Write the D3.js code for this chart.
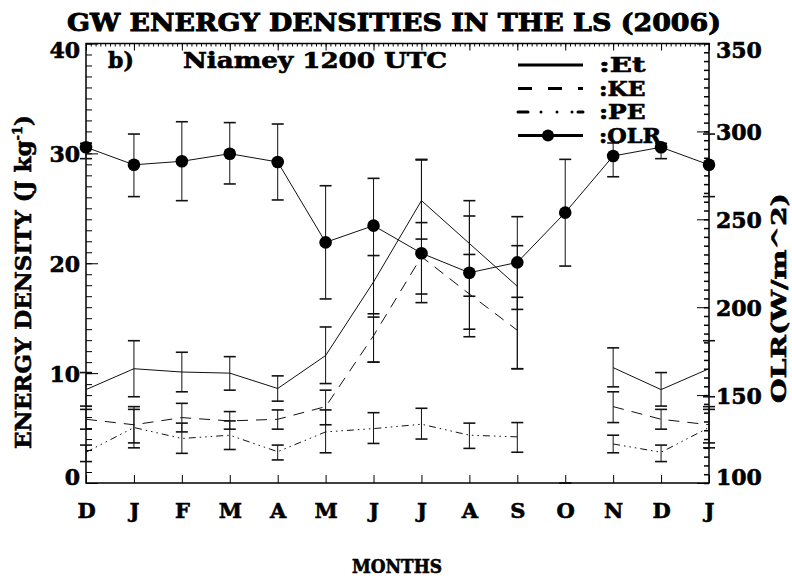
<!DOCTYPE html>
<html>
<head>
<meta charset="utf-8">
<script src="https://cdn.jsdelivr.net/npm/d3@7"></script>
<style>
body { margin: 0; background: #fff; }
text { font-family: "DejaVu Serif", "Liberation Serif", serif; font-weight: bold; fill: #000; stroke: #000; stroke-width: 0.6px; }
</style>
</head>
<body>
<div id="chart"></div>
<script>
// months along the x axis (Dec 2005 .. Jan 2007)
const months = ['D','J','F','M','A','M','J','J','A','S','O','N','D','J'];

// total, kinetic and potential energy (J/kg), null = no data
const et   = [8.5, 10.4, 10.1, 10.0, 8.6, 11.6, 18.3, 25.7, 21.8, 17.9, null, 10.5, 8.5, 10.4];
const etLo = [7.0, 7.85, 8.3, 8.45, 7.45, 9.05, 15.4, 22.2, 17.0, 15.8, 0, 8.75, 7.0, 7.85];
const etHi = [10.05, 12.95, 11.9, 11.5, 9.75, 14.2, 20.7, 29.4, 24.3, 21.6, 0, 12.3, 10.05, 12.95];

const ke   = [5.8, 5.3, 5.95, 5.65, 5.8, 6.95, 13.4, 20.6, 17.2, 13.9, null, 6.95, 5.8, 5.3];
const keLo = [4.9, 3.65, 4.65, 4.9, 4.9, 5.3, 11.0, 17.2, 14.0, 10.4, null, 5.5, 4.9, 3.65];
const keHi = [6.7, 6.95, 7.25, 6.5, 6.65, 8.45, 15.1, 23.7, 20.8, 16.9, null, 8.3, 6.7, 6.95];

const pe   = [2.8, 5.05, 4.05, 4.35, 2.85, 4.65, 4.95, 5.35, 4.35, 4.2, null, 3.55, 2.8, 5.05];
const peLo = [1.95, 3.2, 2.7, 3.05, 2.1, 2.75, 3.6, 4.0, 3.15, 2.8, null, 2.75, 1.95, 3.2];
const peHi = [3.45, 6.7, 5.45, 5.65, 3.45, 6.65, 6.4, 6.8, 5.45, 5.5, null, 4.35, 3.45, 6.7];

// outgoing longwave radiation (W/m^2)
const olr   = [291, 281, 283, 287.3, 282.6, 236.9, 246.4, 230.7, 219.6, 225.5, 253.8, 286, 291, 281];
const olrLo = [284.5, 262.9, 260.6, 270.1, 261.0, 204.7, 168.7, 202.6, 183.2, 165.0, 223.4, 274.2, 284.5, 262.9];
const olrHi = [293.2, 298.5, 305.5, 305.0, 304.2, 269.1, 273.3, 284.1, 260.6, 251.5, 284.1, 293.4, 293.2, 298.5];

const leftTicks = [0, 10, 20, 30, 40];
const rightTicks = [100, 150, 200, 250, 300, 350];

const width = 792, height = 579;
const svg = d3.select("#chart").append("svg")
    .attr("width", width)
    .attr("height", height);

const x = d3.scaleLinear().domain([0, 13]).range([86, 709]);
const y = d3.scaleLinear().domain([0, 40]).range([483, 43.5]);
const y2 = d3.scaleLinear().domain([100, 350]).range([483, 43.5]);

// frame
svg.append("rect")
    .attr("x", x(0)).attr("y", y(40))
    .attr("width", x(13) - x(0)).attr("height", y(0) - y(40))
    .attr("fill", "none").attr("stroke", "#000").attr("stroke-width", 1.5);

const noDomain = g => g.select(".domain").remove();

// left axis, ticks point inward
svg.append("g").attr("transform", `translate(${x(0)},0)`)
    .call(d3.axisLeft(y).tickValues(d3.range(0, 41, 1)).tickSize(-6).tickFormat(""))
    .call(noDomain);
svg.append("g").attr("transform", `translate(${x(0)},0)`)
    .call(d3.axisLeft(y).tickValues(leftTicks).tickSize(-12).tickPadding(6))
    .call(noDomain)
    .selectAll("text")
        .style("font-size", "22px")
        .attr("dy", d => d === 40 ? 14 : d === 0 ? 1 : 8);

// right axis (OLR)
svg.append("g").attr("transform", `translate(${x(13)},0)`)
    .call(d3.axisRight(y2).tickValues(d3.range(100, 351, 5)).tickSize(-5).tickFormat(""))
    .call(noDomain)
    .selectAll("line").attr("stroke-width", 1.5);
svg.append("g").attr("transform", `translate(${x(13)},0)`)
    .call(d3.axisRight(y2).tickValues(rightTicks).tickSize(-12).tickPadding(7))
    .call(noDomain)
    .selectAll("text")
        .style("font-size", "22px")
        .attr("dy", d => d === 350 ? 14 : d === 100 ? 1 : 8);

// top axis, dense minor ticks
svg.append("g").attr("transform", `translate(0,${y(40)})`)
    .call(d3.axisTop(x).tickValues(d3.range(0, 130.5, 1).map(v => v / 10)).tickSize(-3).tickFormat(""))
    .call(noDomain);
svg.append("g").attr("transform", `translate(0,${y(40)})`)
    .call(d3.axisTop(x).tickValues(d3.range(14)).tickSize(-7).tickFormat(""))
    .call(noDomain);

// bottom axis with month letters
svg.append("g").attr("transform", `translate(0,${y(0)})`)
    .call(d3.axisBottom(x).tickValues(d3.range(14)).tickSize(-8).tickPadding(20).tickFormat(i => months[i]))
    .call(noDomain)
    .selectAll("text")
        .style("font-size", "21px");

// series lines
const idx = d3.range(months.length);
function drawLine(vals, scale, dash) {
    const line = d3.line()
        .defined(i => vals[i] != null)
        .x(i => x(i))
        .y(i => scale(vals[i]));
    svg.append("path")
        .datum(idx)
        .attr("d", line)
        .attr("fill", "none")
        .attr("stroke", "#111")
        .attr("stroke-width", 1)
        .attr("stroke-dasharray", dash);
}
function drawErr(lo, hi, scale) {
    const g = svg.append("g").attr("stroke", "#111");
    const pts = idx.filter(i => lo[i] != null);
    g.selectAll("line.v").data(pts).enter().append("line")
        .attr("x1", i => x(i)).attr("x2", i => x(i))
        .attr("y1", i => scale(lo[i])).attr("y2", i => scale(hi[i]))
        .attr("stroke-width", 1);
    [lo, hi].forEach(arr => {
        g.selectAll(null).data(pts).enter().append("line")
            .attr("x1", i => x(i) - 6).attr("x2", i => x(i) + 6)
            .attr("y1", i => scale(arr[i])).attr("y2", i => scale(arr[i]))
            .attr("stroke-width", 1.6);
    });
}

drawLine(et, y, null);
drawLine(ke, y, "11,8");
drawLine(pe, y, "7,4,1.5,4,1.5,4,1.5,4");
drawLine(olr, y2, null);

drawErr(etLo, etHi, y);
drawErr(keLo, keHi, y);
drawErr(peLo, peHi, y);
drawErr(olrLo, olrHi, y2);

svg.append("g").selectAll("circle")
    .data(idx)
    .enter()
    .append("circle")
        .attr("cx", i => x(i))
        .attr("cy", i => y2(olr[i]))
        .attr("r", 6.3)
        .attr("fill", "#000");

// legend
const legend = [
    {label: ":Et", dash: null, dot: false},
    {label: ":KE", dash: "14,16", dot: false},
    {label: ":PE", dash: "10,13,0,16,0,15,0,6,10,60", dot: false},
    {label: ":OLR", dash: null, dot: true}
];
legend.forEach((d, k) => {
    const ly = 65 + k * 23.5;
    svg.append("line")
        .attr("x1", 518).attr("x2", 583)
        .attr("y1", ly).attr("y2", ly)
        .attr("stroke", "#000").attr("stroke-width", 3)
        .attr("stroke-linecap", d.label === ":PE" ? "round" : "butt")
        .attr("stroke-dasharray", d.dash);
    if (d.dot) {
        svg.append("circle").attr("cx", 548).attr("cy", ly).attr("r", 6).attr("fill", "#000");
    }
    svg.append("text")
        .attr("x", 599).attr("y", ly + 7)
        .attr("textLength", d.label.length * 15.5)
        .attr("lengthAdjust", "spacingAndGlyphs")
        .style("font-size", "20px")
        .text(d.label);
});

// titles
svg.append("text")
    .attr("x", 394).attr("y", 31)
    .attr("text-anchor", "middle")
    .attr("textLength", 654)
    .attr("lengthAdjust", "spacingAndGlyphs")
    .style("font-size", "24px")
    .style("stroke-width", "0.9px")
    .text("GW ENERGY DENSITIES IN THE LS (2006)");

svg.append("text")
    .attr("x", 108).attr("y", 68)
    .style("font-size", "22px")
    .text("b)");
svg.append("text")
    .attr("x", 183).attr("y", 68)
    .attr("textLength", 264)
    .attr("lengthAdjust", "spacingAndGlyphs")
    .style("font-size", "22px")
    .text("Niamey 1200 UTC");

svg.append("text")
    .attr("text-anchor", "middle")
    .attr("transform", "translate(31,282) rotate(-90)")
    .style("font-size", "23px")
    .call(t => {
        t.append("tspan").text("ENERGY DENSITY (J kg");
        t.append("tspan").attr("dy", -9).style("font-size", "13px").text("-1");
        t.append("tspan").attr("dy", 9).text(")");
    });

svg.append("text")
    .attr("text-anchor", "middle")
    .attr("transform", "translate(786,298) rotate(-90)")
    .attr("textLength", 210)
    .attr("lengthAdjust", "spacingAndGlyphs")
    .style("font-size", "21px")
    .text("OLR(W/m^2)");

svg.append("text")
    .attr("x", 397).attr("y", 573)
    .attr("text-anchor", "middle")
    .attr("textLength", 90)
    .attr("lengthAdjust", "spacingAndGlyphs")
    .style("font-size", "18px")
    .text("MONTHS");
</script>
</body>
</html>
